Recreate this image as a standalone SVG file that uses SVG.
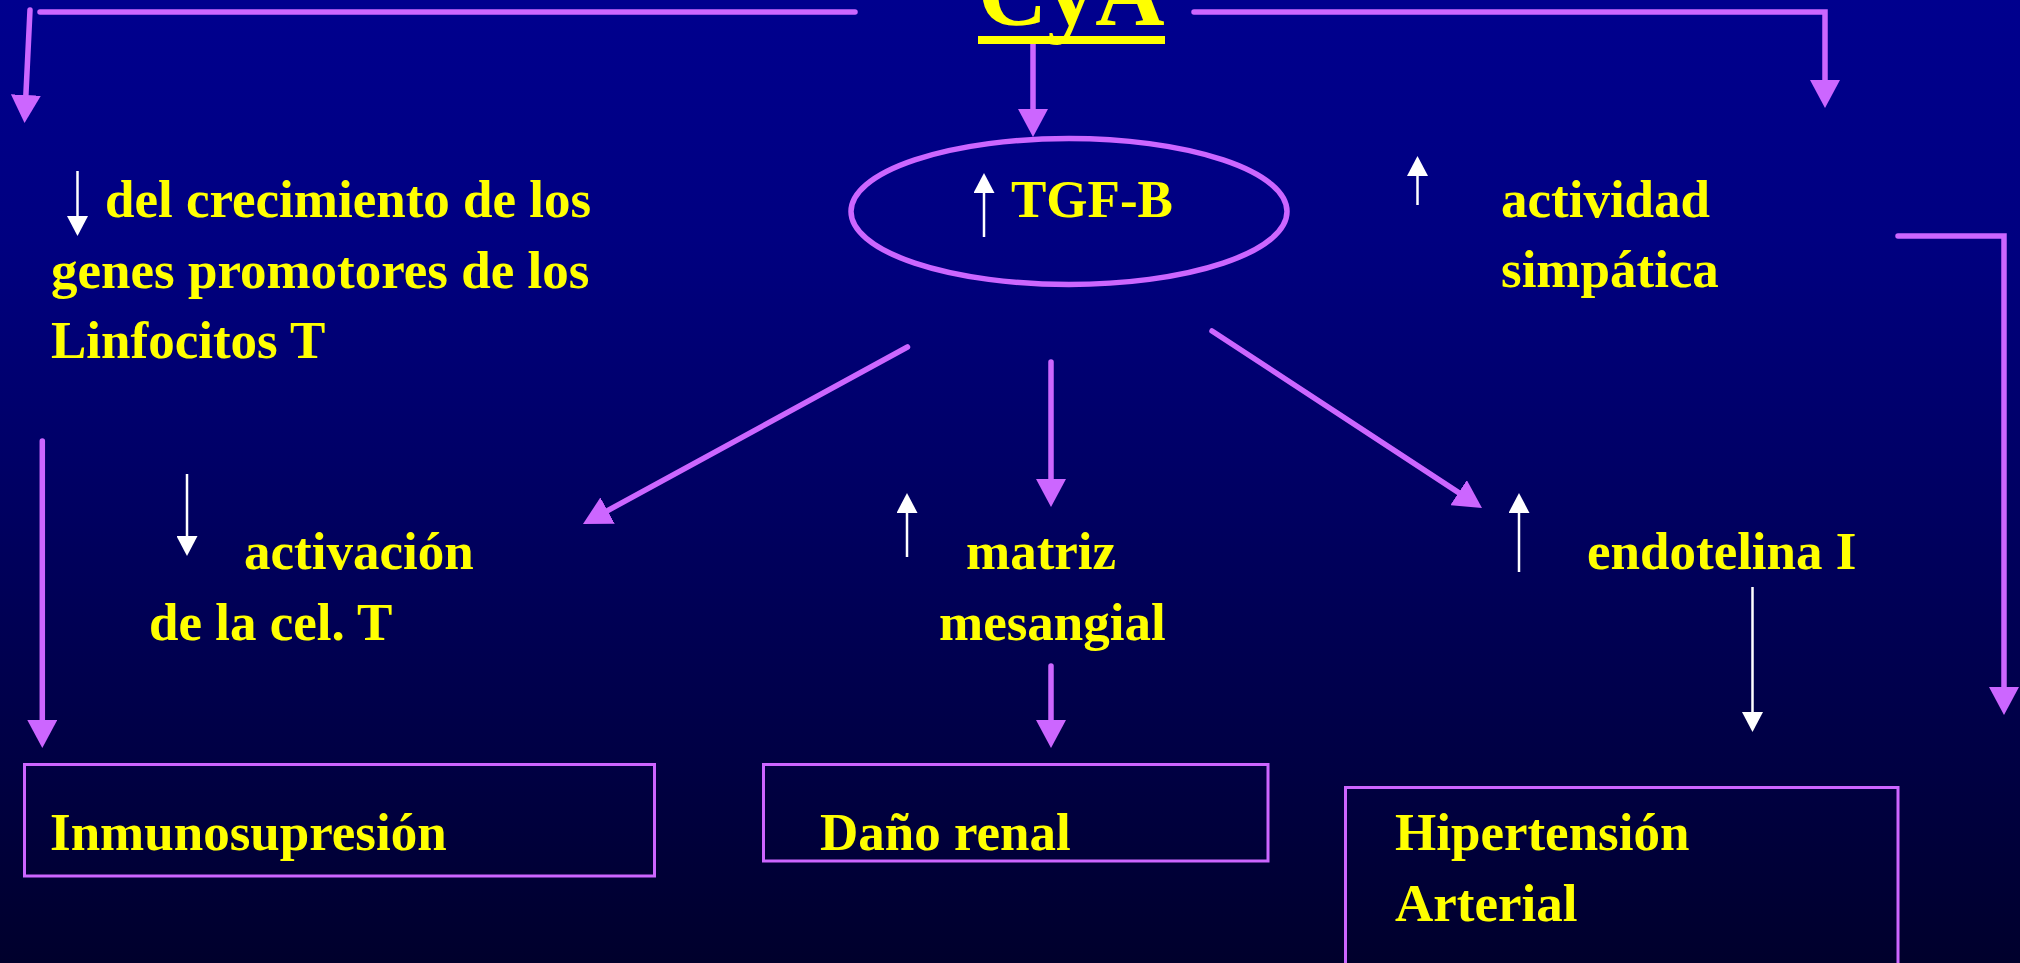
<svg xmlns="http://www.w3.org/2000/svg" width="2020" height="963" viewBox="0 0 2020 963">
<defs>
<linearGradient id="bg" x1="0" y1="0" x2="0" y2="1">
<stop offset="0" stop-color="#00008E"/>
<stop offset="0.25" stop-color="#000080"/>
<stop offset="1" stop-color="#00002C"/>
</linearGradient>
<marker id="ah" viewBox="0 0 28 30" refX="6" refY="15" markerWidth="28" markerHeight="30" markerUnits="userSpaceOnUse" orient="auto">
<path d="M0,0 L28,15 L0,30 z" fill="#CC66FF"/>
</marker>
<marker id="wh" viewBox="0 0 20 21" refX="4" refY="10.5" markerWidth="20" markerHeight="21" markerUnits="userSpaceOnUse" orient="auto">
<path d="M0,0 L20,10.5 L0,21 z" fill="#FFFFFF"/>
</marker>
</defs>
<style>
.t{font-family:"Liberation Serif","Times New Roman",serif;font-weight:bold;font-size:53px;fill:#FFFF00}
.c{fill:none;stroke:#CC66FF;stroke-width:5.5;stroke-linecap:round;stroke-linejoin:miter;marker-end:url(#ah)}
.w{fill:none;stroke:#FFFFFF;stroke-width:2.5;marker-end:url(#wh)}
.box{fill:none;stroke:#CC66FF;stroke-width:3}
</style>
<rect x="0" y="0" width="2020" height="963" fill="url(#bg)"/>

<g id="connectors">
<line x1="40" y1="12" x2="855" y2="12" stroke="#CC66FF" stroke-width="5.5" stroke-linecap="round"/>
<line class="c" x1="30" y1="10" x2="25.6" y2="101"/>
<line class="c" x1="1033" y1="42" x2="1033" y2="115"/>
<path class="c" d="M1194,12 L1825,12 L1825,86"/>
<line class="c" x1="42.3" y1="441" x2="42.3" y2="726"/>
<line class="c" x1="907.5" y1="347" x2="602.3" y2="513.5"/>
<line class="c" x1="1051" y1="362" x2="1051" y2="485"/>
<line class="c" x1="1212" y1="331" x2="1463.6" y2="495.9"/>
<line class="c" x1="1051" y1="666" x2="1051" y2="726"/>
<path class="c" d="M1898,236 L2004,236 L2004,693"/>
</g>

<g id="title">
<text class="t" x="978" y="25" style="font-size:96px">CyA</text>
<rect x="978" y="36" width="187" height="8" fill="#FFFF00"/>
</g>

<g id="node-crecimiento">
<line class="w" x1="77.5" y1="171" x2="77.5" y2="220"/>
<text class="t" x="105" y="217">del crecimiento de los</text>
<text class="t" x="51" y="288">genes promotores de los</text>
<text class="t" x="51" y="358">Linfocitos T</text>
</g>

<g id="node-tgf">
<ellipse cx="1069" cy="211.5" rx="218" ry="73" fill="none" stroke="#CC66FF" stroke-width="5.5"/>
<line class="w" x1="984" y1="237" x2="984" y2="189"/>
<text class="t" x="1011" y="217">TGF-B</text>
</g>

<g id="node-simpatica">
<line class="w" x1="1417.5" y1="205" x2="1417.5" y2="172"/>
<text class="t" x="1501" y="217">actividad</text>
<text class="t" x="1501" y="287">simpática</text>
</g>

<g id="node-activacion">
<line class="w" x1="187" y1="474" x2="187" y2="540"/>
<text class="t" x="244" y="569">activación</text>
<text class="t" x="149" y="640">de la cel. T</text>
</g>

<g id="node-matriz">
<line class="w" x1="907" y1="557" x2="907" y2="509"/>
<text class="t" x="966" y="569">matriz</text>
<text class="t" x="939" y="640">mesangial</text>
</g>

<g id="node-endotelina">
<line class="w" x1="1519" y1="572" x2="1519" y2="509"/>
<text class="t" x="1587" y="569">endotelina I</text>
<line class="w" x1="1752.5" y1="587" x2="1752.5" y2="716"/>
</g>

<g id="node-inmunosupresion">
<rect class="box" x="24.5" y="764.5" width="630" height="111.5"/>
<text class="t" x="50" y="850">Inmunosupresión</text>
</g>

<g id="node-dano">
<rect class="box" x="763.5" y="764.5" width="504.5" height="96.5"/>
<text class="t" x="820" y="850">Daño renal</text>
</g>

<g id="node-hipertension">
<rect class="box" x="1345.5" y="787.5" width="552.5" height="200"/>
<text class="t" x="1395" y="850">Hipertensión</text>
<text class="t" x="1395" y="921">Arterial</text>
</g>
</svg>
